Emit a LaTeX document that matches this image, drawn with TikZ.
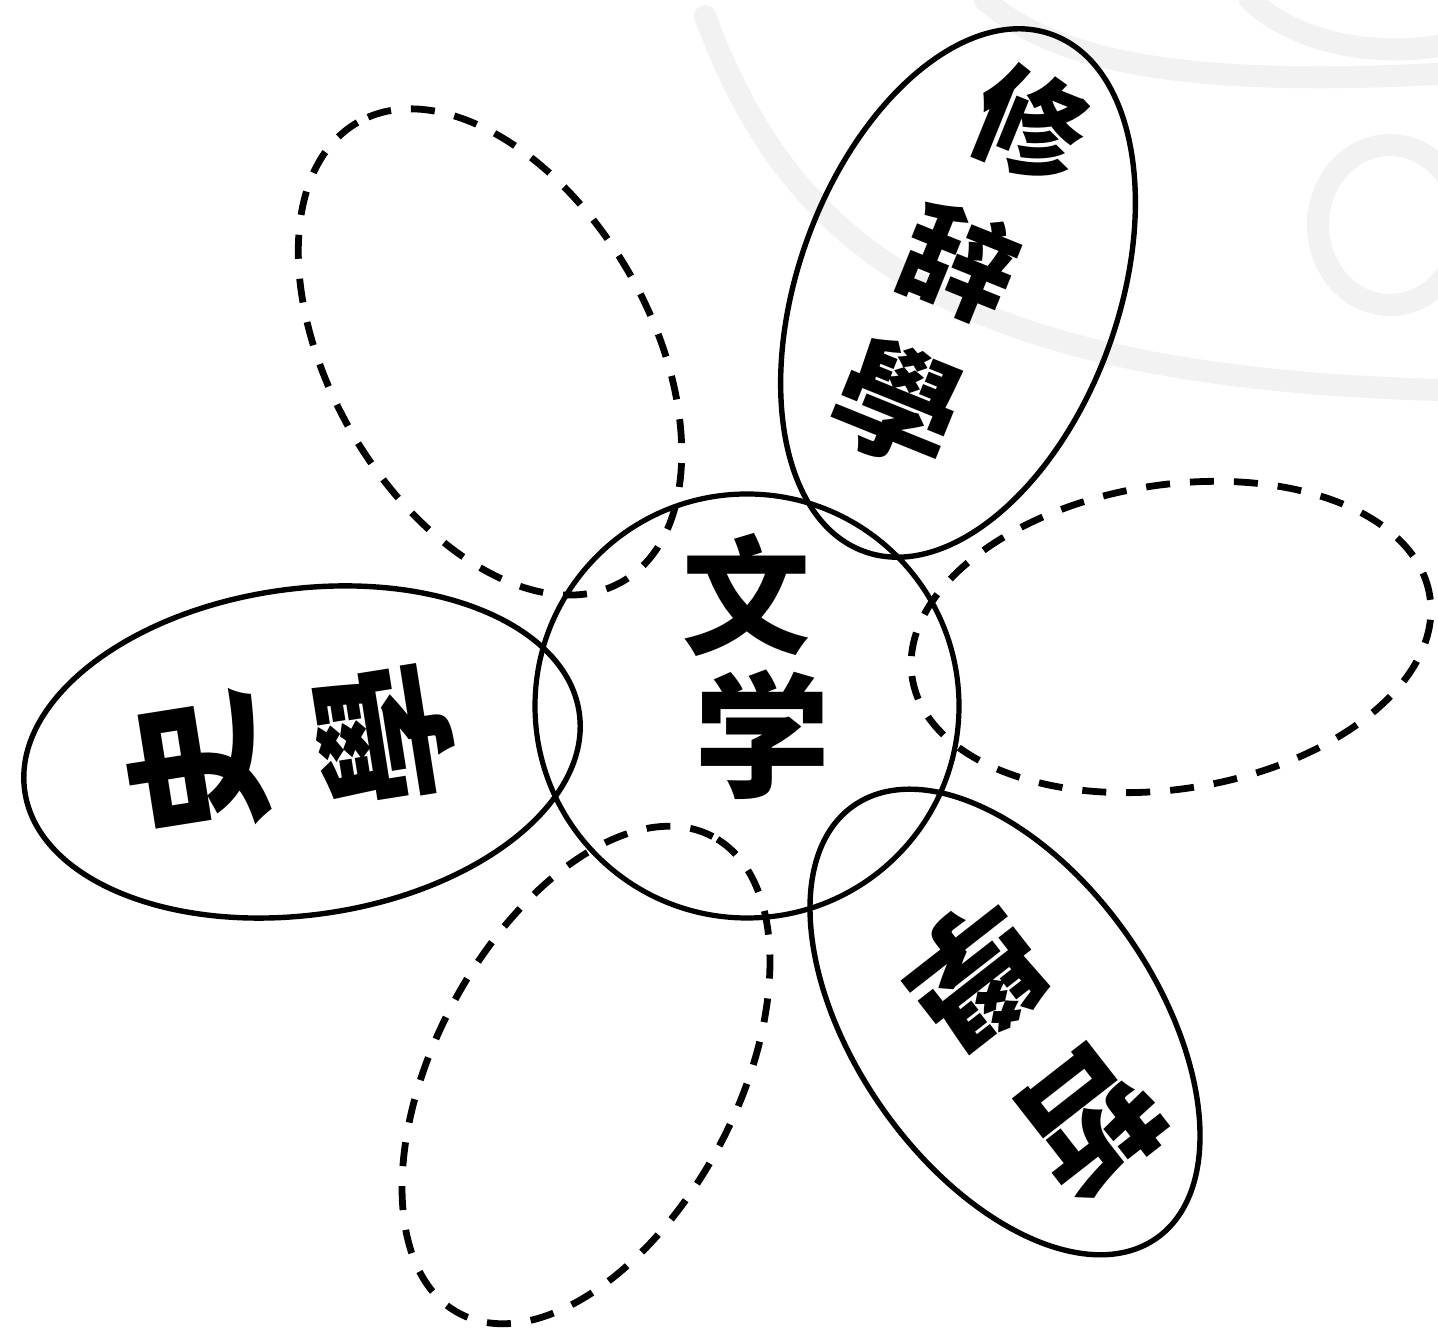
\documentclass[tikz,border=0pt]{standalone}
\usepackage{fontspec}
\newfontfamily\cjk{Noto Sans CJK SC}
\usetikzlibrary{shapes.geometric}
\tikzset{
  solidpetal/.style={draw=black, line width=2.7pt, ellipse, inner sep=0pt},
  dashpetal/.style={draw=black, line width=3.4pt, ellipse, inner sep=0pt, dash pattern=on 12pt off 10pt},
  hub/.style={draw=black, line width=2.6pt, circle, inner sep=0pt, minimum size=424pt*0.5},
  glyph/.style={font=\cjk\bfseries\fontsize{#1}{#1}\selectfont, inner sep=0pt},
  wm/.style={draw=black!5, line width=11pt, line cap=round}
}
\begin{document}
\begin{tikzpicture}[x=0.5pt,y=0.5pt]
\useasboundingbox (0,0) rectangle (1438,1336);
\fill[white] (0,0) rectangle (1438,1336);
% faint watermark
\draw[wm] (705,1320) .. controls (790,1090) and (950,960) .. (1438,946);
\draw[wm] (985,1336) .. controls (1060,1270) and (1200,1250) .. (1438,1262);
\draw[wm] (1250,1336) .. controls (1300,1290) and (1380,1280) .. (1438,1290);
\draw[wm] (1390,1111) ellipse [x radius=72, y radius=80];
% petals
\node[dashpetal, minimum width=530pt*0.5, minimum height=320pt*0.5, rotate=120] (pTL) at (490,984) {};
\node[dashpetal, minimum width=524pt*0.5, minimum height=304pt*0.5, rotate=9] (pR) at (1171,699) {};
\node[dashpetal, minimum width=540pt*0.5, minimum height=302pt*0.5, rotate=62] (pB) at (586,261) {};
\node[solidpetal, minimum width=550pt*0.5, minimum height=320pt*0.5, rotate=70] (pTR) at (958,1043) {};
\node[solidpetal, minimum width=560pt*0.5, minimum height=326pt*0.5, rotate=8] (pL) at (302,584) {};
\node[solidpetal, minimum width=528pt*0.5, minimum height=300pt*0.5, rotate=-55] (pBR) at (1005,314) {};
\node[hub] (hub) at (747,630) {};
% texts
\node[glyph=64pt] (wen) at (746,741) {文};
\node[glyph=68pt] (xue) at (762,601) {学};
\node[glyph=56pt, rotate=-22] (xiu) at (1030,1212) {修};
\node[glyph=56pt, rotate=-22] (ci) at (960,1074) {辞};
\node[glyph=62pt, rotate=-22] (xueA) at (898,932) {學};
\node[glyph=72pt, rotate=99] (shi) at (196,571) {史};
\node[glyph=72pt, rotate=99] (xueB) at (384,601) {學};
\node[glyph=68pt, rotate=-142] (zhe) at (1090,216) {哲};
\node[glyph=68pt, rotate=-142] (xueC) at (975,361) {學};
\end{tikzpicture}
\end{document}
